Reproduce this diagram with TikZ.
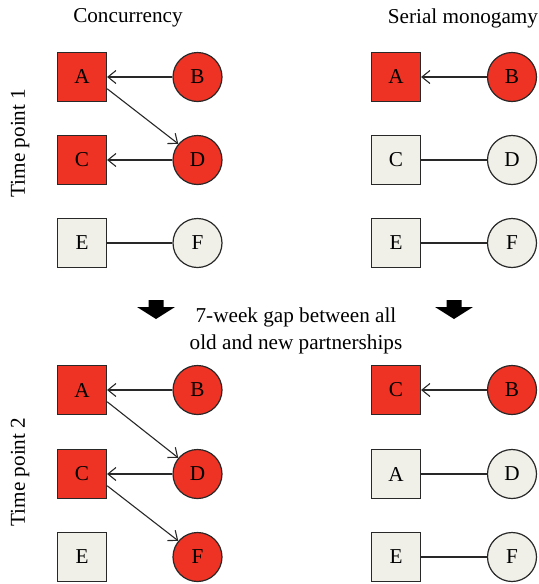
\documentclass[tikz,border=0pt]{standalone}
\usepackage{fontspec}
\setmainfont{Liberation Serif}
\usetikzlibrary{arrows.meta}
\definecolor{pred}{RGB}{238,50,36}
\definecolor{plight}{RGB}{240,240,232}
\definecolor{pline}{RGB}{40,40,40}
\tikzset{
  base/.style={draw=pline, line width=0.6pt, inner sep=0pt, minimum size=24.5pt,
    font=\fontsize{10.6}{12}\selectfont},
  sqr/.style={base, rectangle},
  circ/.style={base, circle},
  red/.style={fill=pred},
  lt/.style={fill=plight},
  link/.style={draw=pline, line width=0.55pt},
  arr/.style={link, -{Straight Barb[length=4pt,width=6.5pt]}},
  lbl/.style={font=\fontsize{10.6}{13.5}\selectfont, inner sep=0pt, align=center},
  bigarrow/.style={fill=black}
}
\begin{document}
\begin{tikzpicture}[x=0.5pt,y=-0.5pt]
\useasboundingbox (0,0) rectangle (538,584);
% titles
\node[lbl] (t1) at (128,18) {Concurrency};
\node[lbl] (t2) at (463,18) {Serial monogamy};
\node[lbl, rotate=90] (tp1) at (20,143) {Time point 1};
\node[lbl, rotate=90] (tp2) at (20,472) {Time point 2};
\node[lbl] (gap) at (296,331) {7-week gap between all\\old and new partnerships};
% big arrows
\foreach \cx in {156,454}{
  \fill[bigarrow] (\cx-7.5,300) -- (\cx+7.5,300) -- (\cx+7.5,307) -- (\cx+19,307)
    -- (\cx,319) -- (\cx-19,307) -- (\cx-7.5,307) -- cycle;
}
% left, time point 1
\node[sqr, red] (LA1) at (82,77) {A};
\node[circ, red] (LB1) at (197.5,77) {B};
\node[sqr, red] (LC1) at (82,160) {C};
\node[circ, red] (LD1) at (197.5,160) {D};
\node[sqr, lt] (LE1) at (82,243) {E};
\node[circ, lt] (LF1) at (197.5,243) {F};
\draw[arr] (LB1) -- (LA1);
\draw[arr] (LA1.-25) -- (LD1.140);
\draw[arr] (LD1) -- (LC1);
\draw[link] (LE1) -- (LF1);
% right, time point 1
\node[sqr, red] (RA1) at (396,77) {A};
\node[circ, red] (RB1) at (512,77) {B};
\node[sqr, lt] (RC1) at (396,160) {C};
\node[circ, lt] (RD1) at (512,160) {D};
\node[sqr, lt] (RE1) at (396,243) {E};
\node[circ, lt] (RF1) at (512,243) {F};
\draw[arr] (RB1) -- (RA1);
\draw[link] (RC1) -- (RD1);
\draw[link] (RE1) -- (RF1);
% left, time point 2
\node[sqr, red] (LA2) at (82,390) {A};
\node[circ, red] (LB2) at (197.5,390) {B};
\node[sqr, red] (LC2) at (82,474) {C};
\node[circ, red] (LD2) at (197.5,474) {D};
\node[sqr, lt] (LE2) at (82,557) {E};
\node[circ, red] (LF2) at (197.5,557) {F};
\draw[arr] (LB2) -- (LA2);
\draw[arr] (LA2.-25) -- (LD2.140);
\draw[arr] (LD2) -- (LC2);
\draw[arr] (LC2.-25) -- (LF2.140);
% right, time point 2
\node[sqr, red] (RC2) at (396,390) {C};
\node[circ, red] (RB2) at (512,390) {B};
\node[sqr, lt] (RA2) at (396,474) {A};
\node[circ, lt] (RD2) at (512,474) {D};
\node[sqr, lt] (RE2) at (396,557) {E};
\node[circ, lt] (RF2) at (512,557) {F};
\draw[arr] (RB2) -- (RC2);
\draw[link] (RA2) -- (RD2);
\draw[link] (RE2) -- (RF2);
\end{tikzpicture}
\end{document}
